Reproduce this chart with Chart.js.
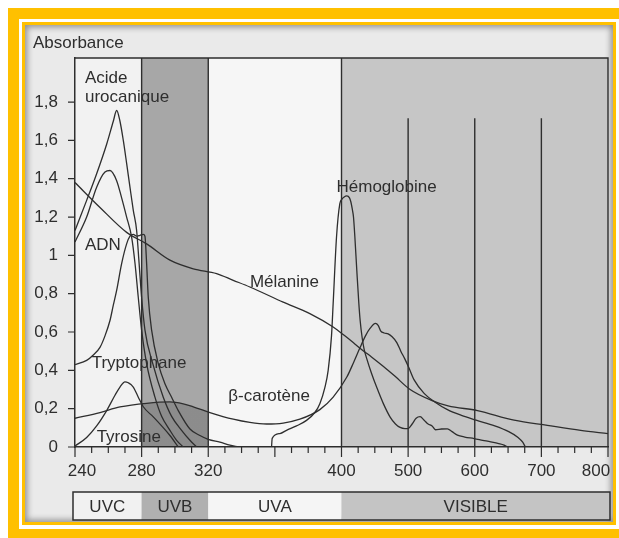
<!DOCTYPE html>
<html>
<head>
<meta charset="utf-8">
<script src="https://cdn.jsdelivr.net/npm/chart.js@4.4.0/dist/chart.umd.min.js"></script>
<style>
  body { margin: 0; width: 619px; height: 538px; overflow: hidden; position: relative; background: #fff; }
  .outer { position: absolute; left: 8px; top: 8px; width: 640px; height: 532px; border: 11px solid #ffc000; box-sizing: border-box; }
  .inner { position: absolute; left: 22px; top: 22px; width: 594px; height: 503px; border: 3px solid #ffc000; box-sizing: border-box;
           background: #eaeaea; box-shadow: inset 0 0 6px 2px rgba(0,0,0,0.4); }
  canvas { position: absolute; left: 0; top: 0; }
</style>
</head>
<body>
<div class="outer"></div>
<div class="inner"></div>
<canvas id="spectra" width="619" height="538"></canvas>
<script>
// wavelength (nm) -> position on the broken axis: 40 nm per step in the UV, 100 nm per step in the visible
const nmToU = nm => nm <= 400 ? (nm - 240) / 40 : 4 + (nm - 400) / 100;

// tick labels
const xTickNm = [240, 280, 320, 400, 500, 600, 700, 800];
const yTicks = [0, 0.2, 0.4, 0.6, 0.8, 1, 1.2, 1.4, 1.6, 1.8];

// spectral regions
const regionNm = [240, 280, 320, 400, 800];
const regionNames = ['UVC', 'UVB', 'UVA', 'VISIBLE'];

// absorbance curves
const auNm = [240, 247, 253, 259, 263, 265, 267, 269, 271, 273, 275, 277, 278.5, 280, 282, 286.7, 293, 298, 304, 309, 313];
const auA = [1.13, 1.287, 1.426, 1.58, 1.70, 1.756, 1.70, 1.6, 1.48, 1.356, 1.235, 1.13, 0.957, 0.78, 0.61, 0.435, 0.26, 0.16, 0.087, 0.035, 0];

const adnNm = [240, 247, 253, 258, 261, 265, 268, 271, 274, 276, 278, 280, 283, 288, 292, 297, 301, 305];
const adnA = [1.07, 1.2, 1.356, 1.435, 1.443, 1.39, 1.30, 1.2, 1.095, 0.96, 0.78, 0.61, 0.435, 0.26, 0.16, 0.087, 0.035, 0];

const trpNm = [240, 247, 251, 255, 258, 261, 263, 265, 268, 271, 273, 275, 277, 279, 281, 282, 283, 284, 286, 290, 294, 298, 302, 309, 315, 320, 327, 333, 338];
const trpA = [0.43, 0.452, 0.48, 0.52, 0.58, 0.66, 0.74, 0.817, 0.957, 1.06, 1.10, 1.11, 1.10, 1.105, 1.11, 1.10, 0.957, 0.78, 0.61, 0.435, 0.33, 0.26, 0.19, 0.094, 0.06, 0.04, 0.025, 0.01, 0];

const tyrNm = [240, 247, 253, 259, 264, 267, 270, 272, 275, 278, 281, 287, 292, 297, 302];
const tyrA = [0.005, 0.05, 0.11, 0.19, 0.27, 0.313, 0.34, 0.335, 0.313, 0.26, 0.21, 0.157, 0.11, 0.06, 0];

const melNm = [240, 255, 271, 283, 297, 311, 325, 335, 345, 365, 381, 395, 405, 420, 432, 445, 463, 480, 503, 534, 560, 604, 659, 709, 759, 800];
const melA = [1.38, 1.25, 1.12, 1.06, 0.975, 0.93, 0.905, 0.87, 0.835, 0.756, 0.696, 0.626, 0.58, 0.538, 0.504, 0.47, 0.42, 0.37, 0.30, 0.245, 0.215, 0.19, 0.14, 0.113, 0.087, 0.07];

const hbNm = [358, 358.4, 363, 367, 373, 379, 384, 387, 390, 392, 394, 395, 397, 399, 401, 404, 408, 412, 414, 416, 418, 420, 423, 426, 428, 431, 434, 438, 445, 453, 463, 473, 481, 488, 495, 500, 506, 512, 518, 524, 530, 536, 541, 550, 559, 566, 574, 585, 599, 612, 624, 636, 644, 649];
const hbA = [0, 0.045, 0.07, 0.087, 0.11, 0.139, 0.18, 0.226, 0.31, 0.40, 0.58, 0.75, 1.095, 1.27, 1.295, 1.305, 1.31, 1.30, 1.28, 1.245, 1.20, 1.10, 0.92, 0.75, 0.66, 0.57, 0.51, 0.46, 0.385, 0.31, 0.225, 0.156, 0.12, 0.102, 0.096, 0.096, 0.12, 0.15, 0.158, 0.14, 0.12, 0.11, 0.09, 0.094, 0.095, 0.08, 0.062, 0.052, 0.044, 0.035, 0.027, 0.018, 0.01, 0];

const betaNm = [240, 255, 267, 283, 297, 305, 311, 321, 335, 345, 355, 365, 375, 387, 395, 408, 418, 428, 436, 443, 451, 455, 459, 464, 470, 476, 483, 489, 495, 501, 509, 524, 540, 559, 580, 602, 630, 651, 665, 672, 676];
const betaA = [0.15, 0.18, 0.209, 0.228, 0.235, 0.225, 0.21, 0.18, 0.145, 0.128, 0.12, 0.125, 0.145, 0.195, 0.26, 0.365, 0.44, 0.52, 0.58, 0.62, 0.645, 0.635, 0.605, 0.595, 0.59, 0.575, 0.545, 0.50, 0.46, 0.415, 0.35, 0.28, 0.235, 0.195, 0.165, 0.14, 0.11, 0.08, 0.05, 0.025, 0];

const FONT = '"Liberation Sans", Arial, sans-serif';
const INK = '#2e2e2e';

const pts = (nm, a) => nm.map((v, i) => ({ x: nmToU(v), y: a[i] }));

// curve captions, anchored in data units (nm, absorbance)
const captions = [
  ['Acide', 246, 1.925], ['urocanique', 246, 1.826], ['ADN', 246, 1.052],
  ['Tryptophane', 250, 0.435], ['Tyrosine', 253, 0.052], ['Mélanine', 345, 0.861],
  ['β-carotène', 332, 0.264], ['Hémoglobine', 397, 1.355]
];

const lineStyle = { borderColor: INK, borderWidth: 1.3, pointRadius: 0, cubicInterpolationMode: 'monotone', fill: false };

// darker shade under the beta-carotene hump, only inside the UVB band
const uvbShade = (context) => {
  const chart = context.chart;
  const a = chart.chartArea;
  if (!a) return 'rgba(0,0,0,0)';
  const x = chart.scales.x;
  const w = a.right - a.left;
  const f0 = (x.getPixelForValue(nmToU(280)) - a.left) / w;
  const f1 = (x.getPixelForValue(nmToU(320)) - a.left) / w;
  const g = chart.ctx.createLinearGradient(a.left, 0, a.right, 0);
  g.addColorStop(0, 'rgba(0,0,0,0)');
  g.addColorStop(f0, 'rgba(0,0,0,0)');
  g.addColorStop(f0 + 0.001, 'rgba(0,0,0,0.16)');
  g.addColorStop(f1 - 0.001, 'rgba(0,0,0,0.16)');
  g.addColorStop(f1, 'rgba(0,0,0,0)');
  g.addColorStop(1, 'rgba(0,0,0,0)');
  return g;
};

const decorPlugin = {
  id: 'decor',
  beforeDraw(chart) {
    const { ctx, chartArea: a, scales: { x } } = chart;
    const fills = ['#f2f2f2', '#a7a7a7', '#f6f6f6', '#c6c6c6'];
    ctx.save();
    for (let i = 0; i < 4; i++) {
      const x0 = x.getPixelForValue(nmToU(regionNm[i]));
      const x1 = x.getPixelForValue(nmToU(regionNm[i + 1]));
      ctx.fillStyle = fills[i];
      ctx.fillRect(x0, a.top, x1 - x0, a.bottom - a.top);
    }
    ctx.restore();
  },
  afterDraw(chart) {
    const { ctx, chartArea: a, scales: { x, y } } = chart;
    ctx.save();
    ctx.strokeStyle = INK;
    ctx.lineWidth = 1.4;
    // frame top/right + region separators
    ctx.beginPath();
    ctx.moveTo(a.left, a.top); ctx.lineTo(a.right, a.top); ctx.lineTo(a.right, a.bottom);
    [280, 320, 400].forEach(n => {
      const px = x.getPixelForValue(nmToU(n));
      ctx.moveTo(px, a.top); ctx.lineTo(px, a.bottom);
    });
    [500, 600, 700].forEach(n => {
      const px = x.getPixelForValue(nmToU(n));
      ctx.moveTo(px, y.getPixelForValue(1.715)); ctx.lineTo(px, a.bottom);
    });
    ctx.stroke();

    // x ticks
    ctx.lineWidth = 1.2;
    ctx.beginPath();
    const longNm = [240, 280, 320, 360, 400, 500, 600, 700, 800];
    const tickNm = [];
    for (let n = 240; n <= 400; n += 10) tickNm.push(n);
    for (let n = 425; n <= 800; n += 25) tickNm.push(n);
    tickNm.forEach(n => {
      const px = x.getPixelForValue(nmToU(n));
      ctx.moveTo(px, a.bottom); ctx.lineTo(px, a.bottom + (longNm.includes(n) ? 10 : 6));
    });
    // y ticks
    yTicks.forEach(v => {
      const py = y.getPixelForValue(v);
      ctx.moveTo(a.left - 7, py); ctx.lineTo(a.left, py);
    });
    ctx.stroke();

    ctx.fillStyle = INK;
    ctx.font = '17px ' + FONT;
    ctx.textBaseline = 'middle';

    // x tick labels (end labels pulled inside the frame, as in the figure)
    ctx.textAlign = 'center';
    xTickNm.forEach(n => {
      const px = x.getPixelForValue(nmToU(n));
      ctx.fillText(String(n), Math.max(a.left + 7, Math.min(a.right - 12, px)), a.bottom + 24);
    });

    // captions
    ctx.textAlign = 'left';
    captions.forEach(([t, nm, v]) => ctx.fillText(t, x.getPixelForValue(nmToU(nm)), y.getPixelForValue(v)));
    ctx.fillText('Absorbance', a.left - 42, a.top - 15);

    // spectral band below the axis
    const bTop = 492, bBot = 520;
    const bandFills = ['#f1f1f1', '#b0b0b0', '#f5f5f5', '#c4c4c4'];
    for (let i = 0; i < 4; i++) {
      const x0 = i === 0 ? a.left - 2 : x.getPixelForValue(nmToU(regionNm[i]));
      const x1 = i === 3 ? a.right + 2 : x.getPixelForValue(nmToU(regionNm[i + 1]));
      ctx.fillStyle = bandFills[i];
      ctx.fillRect(x0, bTop, x1 - x0, bBot - bTop);
      ctx.fillStyle = INK;
      ctx.textAlign = 'center';
      ctx.fillText(regionNames[i], (x0 + x1) / 2, (bTop + bBot) / 2 + 1);
    }
    ctx.lineWidth = 1.5;
    ctx.strokeRect(a.left - 2, bTop, a.right - a.left + 4, bBot - bTop);
    ctx.restore();
  }
};

new Chart(document.getElementById('spectra'), {
  type: 'line',
  data: {
    datasets: [
      { label: 'Acide urocanique', data: pts(auNm, auA), ...lineStyle },
      { label: 'ADN', data: pts(adnNm, adnA), ...lineStyle },
      { label: 'Tryptophane', data: pts(trpNm, trpA), ...lineStyle },
      { label: 'Tyrosine', data: pts(tyrNm, tyrA), ...lineStyle },
      { label: 'Mélanine', data: pts(melNm, melA), ...lineStyle },
      { label: 'Hémoglobine', data: pts(hbNm, hbA), ...lineStyle },
      { label: 'β-carotène', data: pts(betaNm, betaA), ...lineStyle, fill: 'origin', backgroundColor: uvbShade }
    ]
  },
  options: {
    responsive: false,
    animation: false,
    layout: { padding: { top: 58, right: 11, left: 0, bottom: 0 } },
    plugins: { legend: { display: false }, tooltip: { enabled: false } },
    scales: {
      x: {
        type: 'linear', min: 0, max: 8,
        grid: { display: false, drawTicks: false },
        border: { display: true, color: INK, width: 1.5 },
        afterBuildTicks: s => { s.ticks = xTickNm.map(n => ({ value: nmToU(n) })); },
        afterFit: s => { s.height = 91; s.paddingLeft = 0; s.paddingRight = 0; },
        ticks: { display: false }
      },
      y: {
        min: 0, max: 2.03,
        grid: { display: false, drawTicks: false },
        border: { display: true, color: INK, width: 1.5 },
        afterBuildTicks: s => { s.ticks = yTicks.map(v => ({ value: v })); },
        afterFit: s => { s.width = 75; s.paddingTop = 0; s.paddingBottom = 0; },
        ticks: {
          padding: 17, color: INK,
          font: { family: FONT, size: 17 },
          callback: v => String(v).replace('.', ',')
        }
      }
    }
  },
  plugins: [decorPlugin]
});
</script>
</body>
</html>
